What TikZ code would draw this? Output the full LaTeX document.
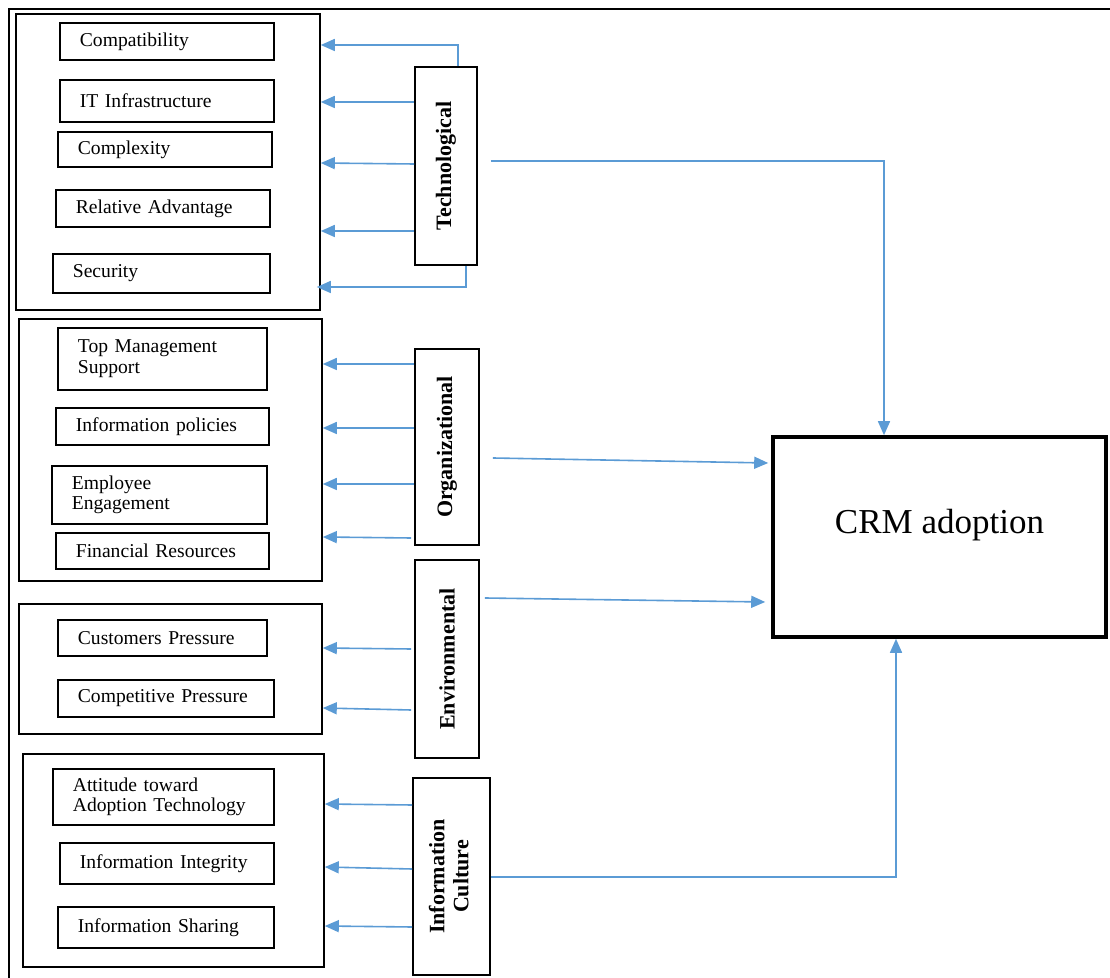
\documentclass[tikz,border=0pt]{standalone}
\usepackage{fontspec}
\setmainfont{Liberation Serif}
\usetikzlibrary{arrows.meta}
\definecolor{linkblue}{RGB}{91,155,213}
\tikzset{
  frame/.style={
    draw,
    line width=1.3pt
  },
}
\tikzset{
  group/.style={
    draw,
    line width=0.9pt,
    anchor=north west,
    inner sep=0pt
  },
}
\tikzset{
  item/.style={
    draw,
    line width=0.9pt,
    anchor=north west,
    align=left,
    inner xsep=10pt,
    inner ysep=0pt,
    font=\fontsize{9.8}{10.4}\selectfont
  },
  factor/.style={
    draw,
    line width=0.9pt,
    inner sep=0pt,
    align=center,
    font=\fontsize{11}{12}\selectfont\bfseries
  },
  crmbox/.style={
    draw,
    line width=1.8pt,
    inner sep=0pt,
    font=\fontsize{17.5}{20}\selectfont
  },
  link/.style={
    draw=linkblue,
    line width=0.8pt,
    -{Triangle[length=7pt,width=6pt]}
  }
}

\begin{document}
\begin{tikzpicture}[x=0.5pt,y=-0.5pt]
\useasboundingbox (0,0) rectangle (1110,978);

       \draw[frame] (1110,9) -- (9,9) -- (9,978);

       % groups of determinants
       \node[group, minimum width=152pt, minimum height=148pt] (g1) at (15,13) {};
       \node[group, minimum width=151.5pt, minimum height=131pt] (g2) at (18,318) {};
       \node[group, minimum width=151.5pt, minimum height=65pt] (g3) at (18,603) {};
       \node[group, minimum width=150.5pt, minimum height=106.5pt] (g4) at (22,753) {};

       % technological
       \node[item, text width=87pt, minimum height=18.5pt] (comp) at (59,22) {Compatibility};
       \node[item, text width=87pt, minimum height=21pt] (infra) at (59,79) {IT Infrastructure};
       \node[item, text width=87pt, minimum height=17.5pt] (cplx) at (57,131) {Complexity};
       \node[item, text width=87pt, minimum height=18.5pt] (radv) at (55,189) {Relative Advantage};
       \node[item, text width=88.5pt, minimum height=19.5pt] (secu) at (52,253) {Security};

       % organizational
       \node[item, text width=84.5pt, minimum height=31pt] (tops) at (57,327) {Top Management\\Support};
       \node[item, text width=86.5pt, minimum height=18.5pt] (ipol) at (55,407) {Information policies};
       \node[item, text width=87.5pt, minimum height=29pt] (emps) at (51,465) {Employee\\Engagement};
       \node[item, text width=86.5pt, minimum height=18pt] (fins) at (55,532) {Financial Resources};

       % environmental
       \node[item, text width=84.5pt, minimum height=18pt] (cusp) at (57,619) {Customers Pressure};
       \node[item, text width=88pt, minimum height=18.5pt] (comq) at (57,679) {Competitive Pressure};

       % information culture
       \node[item, text width=90.5pt, minimum height=28pt] (atti) at (52,768) {Attitude toward\\Adoption Technology};
       \node[item, text width=87pt, minimum height=20.5pt] (iint) at (59,842) {Information Integrity};
       \node[item, text width=88pt, minimum height=20.5pt] (ishr) at (57,906) {Information Sharing};

       \node[factor, minimum width=31pt, minimum height=99pt] (tech) at (446,166) {\rotatebox{90}{Technological}};
       \node[factor, minimum width=32pt, minimum height=98pt] (org) at (447,447) {\rotatebox{90}{Organizational}};
       \node[factor, minimum width=32pt, minimum height=99pt] (env) at (447,659) {\rotatebox{90}{Environmental}};
       \node[factor, minimum width=38.5pt, minimum height=98.5pt] (ic) at (451.5,876.5) {\rotatebox{90}{\begin{tabular}{c}Information\\Culture\end{tabular}}};

       \node[crmbox, minimum width=166.5pt, minimum height=100pt, text depth=16pt] (crm) at (939.5,537) {CRM adoption};

       \draw[link] (tech.north -| 458,0) |- (g1.east |- 0,45);
       \draw[link] (tech.west |- 0,102) -- (g1.east |- 0,102);
       \draw[link] (tech.west |- 0,164) -- (g1.east |- 0,163);
       \draw[link] (tech.west |- 0,231) -- (g1.east |- 0,231);
       \draw[link] (tech.south -| 466,0) |- ([xshift=-2pt]g1.east |- 0,287);

       \draw[link] (org.west |- 0,364) -- (g2.east |- 0,364);
       \draw[link] (org.west |- 0,428) -- (g2.east |- 0,428);
       \draw[link] (org.west |- 0,484) -- (g2.east |- 0,484);
       \draw[link] ([xshift=-1.5pt]org.west |- 0,538) -- (g2.east |- 0,537);

       \draw[link] ([xshift=-1.5pt]env.west |- 0,649) -- (g3.east |- 0,648);
       \draw[link] ([xshift=-1.5pt]env.west |- 0,710) -- (g3.east |- 0,708);

       \draw[link] (ic.west |- 0,805) -- (g4.east |- 0,804);
       \draw[link] (ic.west |- 0,869) -- (g4.east |- 0,867);
       \draw[link] (ic.west |- 0,927) -- (g4.east |- 0,926);

       \draw[link] ([xshift=6.5pt]tech.east |- 0,161) -| (crm.north -| 884,0);
       \draw[link] ([xshift=6.5pt]org.east |- 0,458) -- ([xshift=-1.5pt]crm.west |- 0,463);
       \draw[link] ([xshift=2.5pt]env.east |- 0,598) -- ([xshift=-3pt]crm.west |- 0,602);
       \draw[link] (ic.east |- 0,877) -| (crm.south -| 896,0);

\end{tikzpicture}
\end{document}
